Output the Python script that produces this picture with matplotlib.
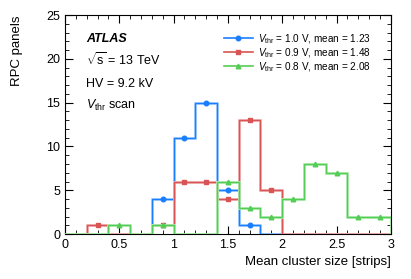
import numpy as np
import matplotlib
matplotlib.use("Agg")
import matplotlib.pyplot as plt
from matplotlib.ticker import MultipleLocator, FormatStrFormatter

plt.rcParams['font.family'] = ['Liberation Sans', 'DejaVu Sans']
plt.rcParams['mathtext.fontset'] = 'custom'
plt.rcParams['mathtext.rm'] = 'Liberation Sans'
plt.rcParams['mathtext.it'] = 'Liberation Sans:italic'

bin_edges = [0.0, 0.2, 0.4, 0.6, 0.8, 1.0, 1.2, 1.4, 1.6, 1.8, 2.0, 2.2, 2.4, 2.6, 2.8, 3.0]
counts_10 = [0, 0, 0, 0, 4, 11, 15, 5, 1, 0, 0, 0, 0, 0, 0]
counts_09 = [0, 1, 0, 0, 1, 6, 6, 4, 13, 5, 0, 0, 0, 0, 0]
counts_08 = [0, 0, 1, 0, 1, 0, 0, 6, 3, 2, 4, 8, 7, 2, 2]
labels = [r"$V_{\rm thr}$ = 1.0 V, mean = 1.23",
          r"$V_{\rm thr}$ = 0.9 V, mean = 1.48",
          r"$V_{\rm thr}$ = 0.8 V, mean = 2.08"]
colors = ["#1a7fff", "#d95454", "#55cc55"]
halo = ["#a8d0ff", "#f2b4b4", "#b4ecb4"]
markers = ["o", "s", "^"]

fig = plt.figure(figsize=(4.11, 2.79), dpi=100)
ax = fig.add_axes([0.158, 0.161, 0.793, 0.785])

edges = np.array(bin_edges)
centers = 0.5 * (edges[:-1] + edges[1:])
handles = []
for i, (cnt, lab) in enumerate(zip([counts_10, counts_09, counts_08], labels)):
    c = np.array(cnt)
    ax.stairs(c, edges, color=halo[i], lw=2.0, zorder=2 + i)
    ax.stairs(c, edges, color=colors[i], lw=1.0, zorder=2.5 + i)
    m = c > 0
    ax.plot(centers[m], c[m], ls='none', marker=markers[i], ms=3.3,
            color=colors[i], zorder=3 + i)
    h, = ax.plot([], [], color=colors[i], lw=1.2, marker=markers[i], ms=3.3, label=lab)
    handles.append(h)

ax.set_xlim(0, 3)
ax.set_ylim(0, 25)
ax.xaxis.set_major_locator(MultipleLocator(0.5))
ax.xaxis.set_minor_locator(MultipleLocator(0.1))
ax.xaxis.set_major_formatter(FormatStrFormatter('%g'))
ax.yaxis.set_major_locator(MultipleLocator(5))
ax.yaxis.set_minor_locator(MultipleLocator(1))
ax.tick_params(which='both', direction='in', top=True, right=True, labelsize=9)
ax.tick_params(which='major', length=6)
ax.tick_params(which='minor', length=3)

ax.set_xlabel("Mean cluster size [strips]", fontsize=9.5, loc='right')
ax.set_ylabel("RPC panels", fontsize=9.5, loc='top')
ax.yaxis.set_label_coords(-0.13, 1.0)

tx = 0.065
ax.text(tx, 0.875, "ATLAS", transform=ax.transAxes, fontsize=9,
        fontweight='bold', fontstyle='italic')
ax.text(tx, 0.77, r"$\sqrt{\rm s}$ = 13 TeV", transform=ax.transAxes, fontsize=9)
ax.text(tx, 0.67, "HV = 9.2 kV", transform=ax.transAxes, fontsize=9)
ax.text(tx, 0.57, r"$V_{\rm thr}$ scan", transform=ax.transAxes, fontsize=9)

ax.legend(handles=handles, loc='upper right', bbox_to_anchor=(0.96, 0.955),
          frameon=False, fontsize=7.2, handlelength=2.9, labelspacing=0.05,
          borderaxespad=0.3, handletextpad=0.5)

fig.savefig("out.png", dpi=100)
